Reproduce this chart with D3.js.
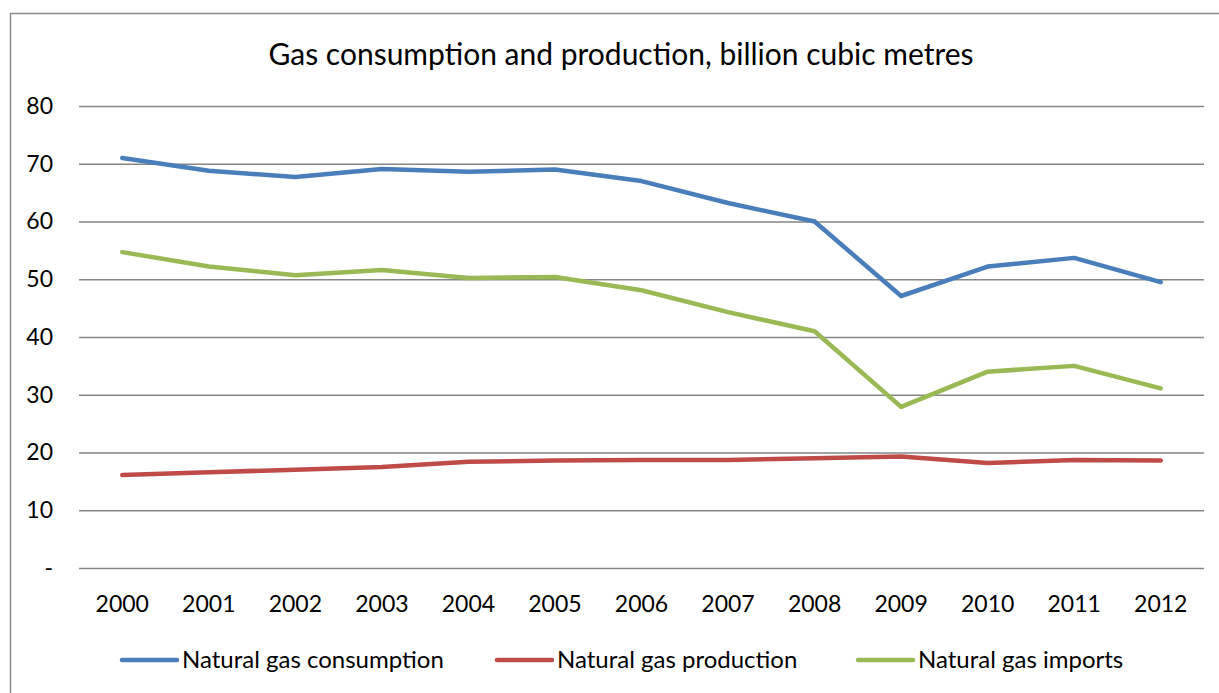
<!DOCTYPE html>
<html><head><meta charset="utf-8">
<script src="https://cdn.jsdelivr.net/npm/d3@7"></script>
<style>body{margin:0;background:#fff}svg{display:block}text{font-family:Lato,"Open Sans",sans-serif;fill:#000}</style>
</head><body><svg id="c" width="1219" height="693"></svg>
<script>
const years = ["2000","2001","2002","2003","2004","2005","2006","2007","2008","2009","2010","2011","2012"];
const consumption = [71.0,68.8,67.7,69.1,68.6,69.0,67.0,63.2,60.0,47.1,52.2,53.7,49.5];
const production = [16.1,16.6,17.0,17.5,18.4,18.6,18.7,18.7,19.0,19.3,18.2,18.7,18.6];
const imports = [54.7,52.2,50.7,51.6,50.2,50.4,48.1,44.3,41.0,27.9,34.0,35.0,31.1];
const yTicks = [0,10,20,30,40,50,60,70,80];
const seriesNames = ["Natural gas consumption","Natural gas production","Natural gas imports"];
const colors = ["#4A7EBB","#BE4B48","#98B954"];

const svg = d3.select("#c");
svg.append("rect").attr("x",10.5).attr("y",13.5).attr("width",1300).attr("height",800)
  .attr("fill","none").attr("stroke","#8a8a8a").attr("stroke-width",1.5);

const L=79,R=1204,T=106,B=568;
const x = d3.scaleBand().domain(years).range([L,R]);
const y = d3.scaleLinear().domain([0,80]).range([B,T]);

svg.append("text").attr("x",621).attr("y",65).attr("text-anchor","middle")
  .style("font-size","30px").text("Gas consumption and production, billion cubic metres");

const ya = svg.append("g").attr("transform",`translate(${L},0)`)
  .call(d3.axisLeft(y).tickValues(yTicks).tickSize(-(R-L)).tickPadding(0)
    .tickFormat(d=> d===0 ? "-" : d));
ya.select(".domain").remove();
ya.selectAll(".tick line").attr("stroke","#868686").attr("stroke-width",1.5);
ya.selectAll(".tick text").style("font-size","23px").attr("text-anchor","end").attr("x",-26);

const xa = svg.append("g").attr("transform",`translate(0,${B})`)
  .call(d3.axisBottom(x).tickSize(0).tickPadding(28));
xa.select(".domain").remove();
xa.selectAll(".tick text").style("font-size","23px");

const line = d3.line().x((d,i)=>x(years[i])+x.bandwidth()/2).y(d=>y(d));
[consumption,production,imports].forEach((s,k)=>{
  svg.append("path").datum(s).attr("d",line).attr("fill","none")
    .attr("stroke",colors[k]).attr("stroke-width",4.5).attr("stroke-linecap","round").attr("stroke-linejoin","round");
});

const legX=[122,497,858];
seriesNames.forEach((n,k)=>{
  const g=svg.append("g").attr("transform",`translate(${legX[k]},660)`);
  g.append("line").attr("x1",0).attr("x2",55).attr("stroke",colors[k]).attr("stroke-width",4.5).attr("stroke-linecap","round");
  g.append("text").attr("x",60).attr("y",8).style("font-size","24px").text(n);
});
</script></body></html>
